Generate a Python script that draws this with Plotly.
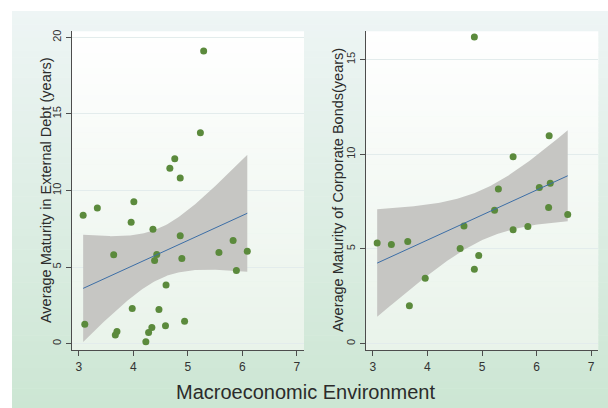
import numpy as np
import plotly.graph_objects as go

# Macroeconomic environment index vs. average maturity of external debt (years)
debt_env = [5.29, 5.23, 4.76, 4.67, 4.86, 3.34, 4.01, 3.08, 3.96, 4.36,
            4.86, 3.64, 4.43, 4.39, 4.89, 5.57, 5.83, 6.09, 5.89, 4.60,
            3.98, 4.47, 3.11, 3.70, 3.67, 4.34, 4.28, 4.59, 4.94, 4.23]
debt_maturity = [19.10, 13.77, 12.08, 11.45, 10.82, 8.85, 9.26, 8.38, 7.92, 7.47,
                 7.05, 5.80, 5.82, 5.43, 5.56, 5.95, 6.73, 6.04, 4.78, 3.83,
                 2.29, 2.23, 1.27, 0.80, 0.56, 1.06, 0.73, 1.17, 1.47, 0.13]

# Macroeconomic environment index vs. average maturity of corporate bonds (years)
bond_env = [4.86, 6.23, 5.57, 5.30, 6.05, 6.25, 6.22, 5.23, 3.08, 3.34,
            3.64, 4.67, 4.60, 4.94, 4.86, 3.96, 3.67, 5.57, 5.84, 6.57]
bond_maturity = [16.19, 10.98, 9.87, 8.16, 8.24, 8.47, 7.19, 7.05, 5.32, 5.23,
                 5.40, 6.21, 5.03, 4.65, 3.93, 3.45, 2.00, 6.02, 6.19, 6.82]

env_ticks = [3, 4, 5, 6, 7]
debt_ticks = [0, 5, 10, 15, 20]
bond_ticks = [0, 5, 10, 15]

# two-sided 95% Student t critical values by degrees of freedom
T975 = {18: 2.101, 28: 2.048}

W, H = 608, 408
FONT = "Liberation Sans, Arial, sans-serif"
MARKER = "#5b8a3c"
LINE = "#3c6ea6"
BAND = "#c6c6c3"
AXIS = "#4d4d4d"


def fit_ci(x, y, npts=120):
    """OLS fit with 95% confidence band for the mean prediction."""
    x = np.asarray(x, float)
    y = np.asarray(y, float)
    n = len(x)
    slope, icpt = np.polyfit(x, y, 1)
    resid = y - (icpt + slope * x)
    s = np.sqrt(resid @ resid / (n - 2))
    sxx = ((x - x.mean()) ** 2).sum()
    grid = np.linspace(x.min(), x.max(), npts)
    yhat = icpt + slope * grid
    half = T975[n - 2] * s * np.sqrt(1.0 / n + (grid - x.mean()) ** 2 / sxx)
    return grid, yhat, yhat - half, yhat + half


def px_x(p):
    return p / W


def px_y(p):
    return 1 - p / H


def mix(c1, c2, t):
    a = [int(c1[i:i + 2], 16) for i in (1, 3, 5)]
    b = [int(c2[i:i + 2], 16) for i in (1, 3, 5)]
    return "rgb(%d,%d,%d)" % tuple(round(a[k] + (b[k] - a[k]) * t) for k in range(3))


def gradient(x0, x1, y0, y1, top, bottom, steps=60):
    """Vertical colour gradient made of thin stacked rectangles (pixel coords)."""
    out = []
    h = (y1 - y0) / steps
    for i in range(steps):
        out.append(dict(type="rect", xref="paper", yref="paper", layer="below",
                         x0=px_x(x0), x1=px_x(x1),
                         y0=px_y(y0 + i * h), y1=px_y(y0 + (i + 1) * h + 0.6),
                         fillcolor=mix(top, bottom, (i + 0.5) / steps),
                         line=dict(width=0)))
    return out


# plot-region pixel boxes
LEFT_BOX = (71.7, 304.0)
RIGHT_BOX = (365.7, 598.3)
TOP, BOTTOM = 29.3, 350.0

fig = go.Figure()

panels = [
    (debt_env, debt_maturity, "x", "y"),
    (bond_env, bond_maturity, "x2", "y2"),
]
for xs, ys, xa, ya in panels:
    g, yhat, lo, hi = fit_ci(xs, ys)
    fig.add_trace(go.Scatter(
        x=np.concatenate([g, g[::-1]]), y=np.concatenate([hi, lo[::-1]]),
        fill="toself", fillcolor=BAND, line=dict(width=0), mode="lines",
        hoverinfo="skip", showlegend=False, xaxis=xa, yaxis=ya))
    fig.add_trace(go.Scatter(
        x=xs, y=ys, mode="markers",
        marker=dict(color=MARKER, size=7, line=dict(width=0)),
        showlegend=False, xaxis=xa, yaxis=ya))
    fig.add_trace(go.Scatter(
        x=g, y=yhat, mode="lines", line=dict(color=LINE, width=1),
        showlegend=False, xaxis=xa, yaxis=ya))

shapes = []
shapes += gradient(12, W, 9, H, "#eef5f5", "#cce6d3")
shapes += gradient(LEFT_BOX[0], LEFT_BOX[1], TOP, BOTTOM, "#ffffff", "#e9f3ea")
shapes += gradient(RIGHT_BOX[0], RIGHT_BOX[1], TOP, BOTTOM, "#ffffff", "#e9f3ea")

xaxis_common = dict(
    range=[2.87, 7.13], tickvals=env_ticks, ticks="outside", ticklen=5,
    tickcolor=AXIS, tickwidth=1, showline=True, linecolor=AXIS, linewidth=1,
    showgrid=False, zeroline=False,
    tickfont=dict(family=FONT, size=12, color="#333333"),
)
yaxis_common = dict(
    ticks="outside", ticklen=5, tickcolor=AXIS, tickwidth=1, tickangle=-90,
    showline=True, linecolor=AXIS, linewidth=1,
    showgrid=True, gridcolor="#e3ecec", gridwidth=1, zeroline=False,
    tickfont=dict(family=FONT, size=11, color="#333333"),
)

fig.update_layout(
    width=W, height=H, margin=dict(l=0, r=0, t=0, b=0),
    paper_bgcolor="#ffffff", plot_bgcolor="rgba(0,0,0,0)",
    shapes=shapes,
    xaxis=dict(domain=[px_x(LEFT_BOX[0]), px_x(LEFT_BOX[1])], anchor="y", **xaxis_common),
    xaxis2=dict(domain=[px_x(RIGHT_BOX[0]), px_x(RIGHT_BOX[1])], anchor="y2", **xaxis_common),
    yaxis=dict(domain=[px_y(BOTTOM), px_y(TOP)], anchor="x",
               range=[-0.43, 20.4], tickvals=debt_ticks, **yaxis_common),
    yaxis2=dict(domain=[px_y(BOTTOM), px_y(TOP)], anchor="x2",
                range=[-0.35, 16.5], tickvals=bond_ticks, **yaxis_common),
    annotations=[
        dict(text="Average Maturity in External Debt (years)", textangle=-90,
             xref="paper", yref="paper", x=px_x(45.5), y=px_y(189.5),
             xanchor="center", yanchor="middle", showarrow=False,
             font=dict(family=FONT, size=14.5, color="#2b2b2b")),
        dict(text="Average Maturity of Corporate Bonds(years)", textangle=-90,
             xref="paper", yref="paper", x=px_x(337.5), y=px_y(189.5),
             xanchor="center", yanchor="middle", showarrow=False,
             font=dict(family=FONT, size=14.5, color="#2b2b2b")),
        dict(text="Macroeconomic Environment",
             xref="paper", yref="paper", x=px_x(305), y=px_y(391.5),
             xanchor="center", yanchor="middle", showarrow=False,
             font=dict(family=FONT, size=20, color="#2b2b2b")),
    ],
)

fig.write_html("out.html")
